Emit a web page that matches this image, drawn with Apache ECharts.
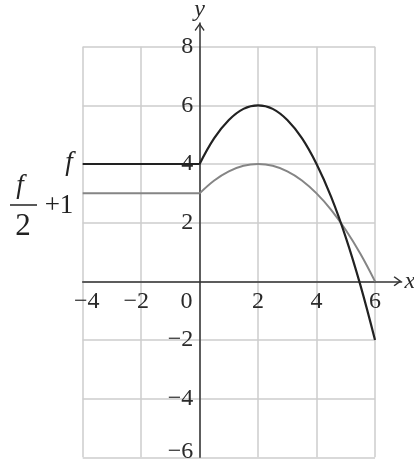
<!DOCTYPE html>
<html>
<head>
<meta charset="utf-8">
<script src="https://cdn.jsdelivr.net/npm/echarts@6/dist/echarts.min.js"></script>
<style>
  html, body { margin: 0; padding: 0; background: #fff; }
  #chart { width: 414px; height: 466px; }
</style>
</head>
<body>
<div id="chart"></div>
<script>
// tick values shown on the axes
const xTickLabels = [-4, -2, 0, 2, 4, 6];
const yTickLabels = [-6, -4, -2, 2, 4, 6, 8];

// constant part for x < 0
const flatX = [-4, 0];
const fFlat = [4, 4];
const gFlat = [3, 3];

// curved part for 0 <= x <= 6
const curveX = [0, 0.5, 1, 1.5, 2, 2.5, 3, 3.5, 4, 4.5, 5, 5.5, 6];
const fCurve = [4, 4.88, 5.5, 5.88, 6, 5.88, 5.5, 4.88, 4, 2.88, 1.5, -0.13, -2];
const gCurve = [3, 3.44, 3.75, 3.94, 4, 3.94, 3.75, 3.44, 3, 2.44, 1.75, 0.94, 0];

const SERIF = '"Liberation Serif", "DejaVu Serif", serif';
const MINUS = '\u2212';
const TICK_SIZE = 24;
const chevron = 'path://M5,0 L10,7 L9,8 L5,2.4 L1,8 L0,7 Z';

function pairs(xs, ys) {
  return xs.map((x, i) => [x, ys[i]]);
}

function tickStyle(extra) {
  return Object.assign({ fontFamily: SERIF, fontSize: TICK_SIZE, color: '#2a2a2a' }, extra);
}

// an axis that only fixes the scale of its grid
function hiddenAxis(gridIndex, min, max) {
  return {
    gridIndex: gridIndex,
    type: 'value',
    min: min,
    max: max,
    axisLine: { show: false },
    axisTick: { show: false },
    axisLabel: { show: false },
    splitLine: { show: false }
  };
}

const chart = echarts.init(document.getElementById('chart'), null, { renderer: 'canvas' });

const lineBase = {
  type: 'line',
  xAxisIndex: 0,
  yAxisIndex: 0,
  showSymbol: false,
  symbol: 'none',
  animation: false,
  z: 3
};

const splitStyle = { show: true, lineStyle: { color: '#cdcdcd', width: 1.5 } };
const arrowLine = {
  onZero: true,
  lineStyle: { color: '#333', width: 1.5 },
  symbol: ['none', chevron],
  symbolSize: [10, 8],
  symbolOffset: [0, -4]
};

chart.setOption({
  backgroundColor: '#fff',
  animation: false,
  grid: [
    // 0: plot area with the grid lines
    { left: 82.7, top: 46.7, width: 292.3, height: 410.6, outerBoundsMode: 'none' },
    // 1: same scale, longer range, for the arrowed axes
    { left: 82.7, top: 22.94, width: 318.9, height: 434.36, outerBoundsMode: 'none' },
    // 2: upper half, its bottom edge is y = 0 (x tick labels)
    { left: 82.7, top: 46.7, width: 292.3, height: 234.3, outerBoundsMode: 'none' },
    // 3: right part, its left edge is x = 0 (y tick labels)
    { left: 199.3, top: 46.7, width: 175.7, height: 410.6, outerBoundsMode: 'none' }
  ],
  xAxis: [
    {
      gridIndex: 0,
      type: 'value',
      min: -4,
      max: 6,
      interval: 2,
      axisLine: { show: false },
      axisTick: { show: false },
      axisLabel: { show: false },
      splitLine: splitStyle
    },
    Object.assign(hiddenAxis(1, -4, 6.91), {
      name: 'x',
      nameLocation: 'end',
      nameGap: 3,
      nameTextStyle: { fontFamily: SERIF, fontStyle: 'italic', fontSize: 24, color: '#2a2a2a', verticalAlign: 'middle' },
      axisLine: arrowLine
    }),
    Object.assign(hiddenAxis(2, -4, 6), {
      interval: 2,
      position: 'bottom',
      axisLabel: {
        show: true,
        margin: 9,
        fontFamily: SERIF,
        fontSize: TICK_SIZE,
        color: '#2a2a2a',
        formatter: function (v) {
          if (xTickLabels.indexOf(v) < 0) return '';
          if (v === 0) return '{z|0}';
          if (v === -4) return '{a|' + MINUS + '4}';
          if (v === -2) return '{b|' + MINUS + '2}';
          return String(v);
        },
        rich: {
          z: tickStyle({ padding: [0, 26, 0, 0] }),
          a: tickStyle({ padding: [0, 0, 0, 8] }),
          b: tickStyle({ padding: [0, 10, 0, 0] })
        }
      }
    }),
    hiddenAxis(3, 0, 6)
  ],
  yAxis: [
    {
      gridIndex: 0,
      type: 'value',
      min: -6,
      max: 8,
      interval: 2,
      axisLine: { show: false },
      axisTick: { show: false },
      axisLabel: { show: false },
      splitLine: splitStyle
    },
    Object.assign(hiddenAxis(1, -6, 8.81), {
      name: 'y',
      nameLocation: 'end',
      nameGap: 1,
      nameTextStyle: { fontFamily: SERIF, fontStyle: 'italic', fontSize: 24, color: '#2a2a2a' },
      axisLine: arrowLine
    }),
    hiddenAxis(2, 0, 8),
    Object.assign(hiddenAxis(3, -6, 8), {
      interval: 2,
      position: 'left',
      axisLabel: {
        show: true,
        margin: 6,
        fontFamily: SERIF,
        fontSize: TICK_SIZE,
        color: '#2a2a2a',
        formatter: function (v) {
          if (yTickLabels.indexOf(v) < 0) return '';
          if (v === -6) return '{low|' + MINUS + '6}';
          return String(v).replace('-', MINUS);
        },
        rich: {
          low: tickStyle({ padding: [0, 0, 12, 0] })
        }
      }
    })
  ],
  series: [
    Object.assign({}, lineBase, { name: 'g flat', data: pairs(flatX, gFlat), lineStyle: { color: '#858585', width: 2 } }),
    Object.assign({}, lineBase, { name: 'g', data: pairs(curveX, gCurve), smooth: 0.4, lineStyle: { color: '#858585', width: 2 } }),
    Object.assign({}, lineBase, { name: 'f flat', data: pairs(flatX, fFlat), lineStyle: { color: '#222', width: 2.2 } }),
    Object.assign({}, lineBase, { name: 'f', data: pairs(curveX, fCurve), smooth: 0.4, lineStyle: { color: '#222', width: 2.2 } })
  ],
  graphic: [
    // f label
    {
      type: 'text',
      style: { text: 'f', x: 69, y: 163, font: 'italic 27px ' + SERIF, fill: '#222', align: 'center', verticalAlign: 'middle', textAlign: 'center', textVerticalAlign: 'middle' }
    },
    // f/2 + 1 label
    {
      type: 'text',
      style: { text: 'f', x: 20, y: 186, font: 'italic 27px ' + SERIF, fill: '#222', align: 'center', verticalAlign: 'middle', textAlign: 'center', textVerticalAlign: 'middle' }
    },
    {
      type: 'line',
      shape: { x1: 10, y1: 205, x2: 37, y2: 205 },
      style: { stroke: '#222', lineWidth: 1.5 }
    },
    {
      type: 'text',
      style: { text: '2', x: 23, y: 227, font: '31px ' + SERIF, fill: '#222', align: 'center', verticalAlign: 'middle', textAlign: 'center', textVerticalAlign: 'middle' }
    },
    {
      type: 'text',
      style: { text: '+1', x: 59, y: 206, font: '27px ' + SERIF, fill: '#222', align: 'center', verticalAlign: 'middle', textAlign: 'center', textVerticalAlign: 'middle' }
    }
  ]
});
</script>
</body>
</html>
